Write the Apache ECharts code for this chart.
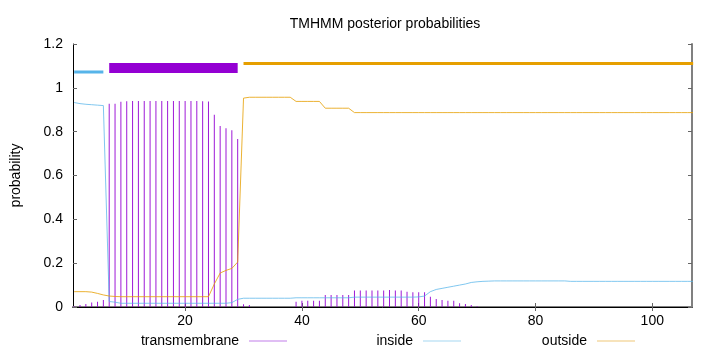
<!DOCTYPE html>
<html lang="en">
<head>
    <meta charset="UTF-8">
    <title>TMHMM posterior probabilities</title>
    <script type="text/javascript" src="https://cdn.jsdelivr.net/npm/echarts@6/dist/echarts.min.js"></script>
    <style>
        html, body { margin: 0; padding: 0; background: #fff; }
    </style>
</head>
<body>
    <div id="chart1" style="width:720px;height:352px;"></div>
</body>
<script type="text/javascript">
    // residue numbers 1..107
    var residues = [];
    for (var r = 1; r <= 107; r++) residues.push(r);

    // transmembrane posterior (impulses)
    var tmProb = [
        0.003, 0.009, 0.014, 0.020, 0.024, 0.032, 0.927, 0.927, 0.936, 0.939,
        0.940, 0.940, 0.940, 0.940, 0.940, 0.940, 0.940, 0.940, 0.940, 0.940,
        0.940, 0.940, 0.939, 0.938, 0.877, 0.826, 0.816, 0.806, 0.766, 0.012,
        0.009, 0, 0, 0, 0, 0, 0, 0, 0.024, 0.029,
        0.029, 0.029, 0.029, 0.055, 0.055, 0.055, 0.055, 0.055, 0.075, 0.075,
        0.075, 0.075, 0.075, 0.075, 0.078, 0.075, 0.075, 0.070, 0.067, 0.067,
        0.067, 0.047, 0.037, 0.032, 0.029, 0.029, 0.017, 0.014, 0.009, 0.003,
        0, 0, 0, 0, 0, 0, 0, 0, 0, 0,
        0, 0, 0, 0, 0, 0, 0, 0, 0, 0,
        0, 0, 0, 0, 0, 0, 0, 0, 0, 0,
        0, 0, 0, 0, 0, 0, 0
    ];

    // inside posterior
    var insideProb = [
        0.933, 0.928, 0.925, 0.923, 0.921, 0.919, 0.025, 0.022, 0.017, 0.017,
        0.017, 0.017, 0.017, 0.017, 0.017, 0.017, 0.017, 0.017, 0.017, 0.017,
        0.017, 0.017, 0.017, 0.017, 0.017, 0.017, 0.017, 0.020, 0.035, 0.040,
        0.040, 0.040, 0.040, 0.040, 0.040, 0.040, 0.040, 0.040, 0.042, 0.042,
        0.042, 0.042, 0.042, 0.042, 0.042, 0.042, 0.042, 0.042, 0.045, 0.045,
        0.045, 0.045, 0.045, 0.045, 0.045, 0.045, 0.045, 0.045, 0.045, 0.046,
        0.050, 0.070, 0.080, 0.085, 0.090, 0.095, 0.100, 0.105, 0.112, 0.115,
        0.117, 0.118, 0.119, 0.119, 0.119, 0.119, 0.119, 0.119, 0.119, 0.119,
        0.119, 0.119, 0.119, 0.119, 0.119, 0.117, 0.117, 0.117, 0.117, 0.117,
        0.117, 0.117, 0.117, 0.117, 0.117, 0.117, 0.117, 0.117, 0.117, 0.117,
        0.117, 0.117, 0.117, 0.117, 0.117, 0.117, 0.117
    ];

    // outside posterior
    var outsideProb = [
        0.070, 0.070, 0.070, 0.068, 0.062, 0.055, 0.050, 0.048, 0.047, 0.047,
        0.047, 0.047, 0.047, 0.047, 0.047, 0.047, 0.047, 0.047, 0.047, 0.047,
        0.047, 0.047, 0.047, 0.047, 0.105, 0.155, 0.167, 0.176, 0.205, 0.953,
        0.957, 0.957, 0.957, 0.957, 0.957, 0.957, 0.957, 0.957, 0.938, 0.938,
        0.938, 0.938, 0.938, 0.907, 0.907, 0.907, 0.907, 0.907, 0.887, 0.887,
        0.887, 0.887, 0.887, 0.887, 0.887, 0.887, 0.887, 0.887, 0.887, 0.887,
        0.887, 0.887, 0.887, 0.887, 0.887, 0.887, 0.887, 0.887, 0.887, 0.887,
        0.887, 0.887, 0.887, 0.887, 0.887, 0.887, 0.887, 0.887, 0.887, 0.887,
        0.887, 0.887, 0.887, 0.887, 0.887, 0.887, 0.887, 0.887, 0.887, 0.887,
        0.887, 0.887, 0.887, 0.887, 0.887, 0.887, 0.887, 0.887, 0.887, 0.887,
        0.887, 0.887, 0.887, 0.887, 0.887, 0.887, 0.887
    ];

    // predicted topology segments [start, end]
    var insideSeg = [1, 6];
    var tmSeg = [7, 29];
    var outsideSeg = [30, 107];

    var xTicks = [20, 40, 60, 80, 100];

    function pairs(vals) {
        return residues.map(function (r, i) { return [r, vals[i]]; });
    }

    var FONT = "'Liberation Sans', Arial, sans-serif";
    var PURPLE = '#9400D3', BLUE = '#56B4E9', ORANGE = '#E69F00';

    var chart = echarts.init(document.getElementById("chart1"));

    function legendAt(name, right, col) {
        return {
            data: [{ name: name, itemStyle: { color: col } }],
            right: right,
            top: 334,
            padding: 0,
            align: 'right',
            icon: 'rect',
            itemWidth: 38,
            itemHeight: 1,
            selectedMode: false,
            textStyle: { fontFamily: FONT, fontSize: 14, color: '#000', padding: [0, 5, 0, 0] }
        };
    }

    var option = {
        animation: false,
        title: {
            text: 'TMHMM posterior probabilities',
            left: 380,
            textAlign: 'center',
            top: 12,
            textStyle: { fontFamily: FONT, fontSize: 14, fontWeight: 'normal', color: '#000' }
        },
        legend: [
            legendAt('transmembrane', 433, '#b970e6'),
            legendAt('inside', 259, '#a6d8f2'),
            legendAt('outside', 85, '#f0c878')
        ],
        grid: { left: 73, right: 28, top: 44, bottom: 45 },
        xAxis: [
            {
                type: 'value', min: 0.8, max: 106.8, position: 'bottom',
                axisLine: { lineStyle: { color: '#808080', width: 2 } },
                axisTick: { inside: true, length: 4, customValues: xTicks, lineStyle: { color: '#666' } },
                axisLabel: { customValues: xTicks, margin: 7, fontFamily: FONT, fontSize: 14, color: '#000' },
                splitLine: { show: false }
            },
            {
                type: 'value', min: 0.8, max: 106.8, position: 'top',
                axisLine: { lineStyle: { color: '#000', width: 1 } },
                axisTick: { inside: true, length: 4, customValues: xTicks, lineStyle: { color: '#666' } },
                axisLabel: { show: false },
                splitLine: { show: false }
            }
        ],
        yAxis: [
            {
                type: 'value', min: 0, max: 1.2, interval: 0.2, position: 'left',
                name: 'probability', nameLocation: 'middle', nameGap: 50,
                nameTextStyle: { fontFamily: FONT, fontSize: 14, color: '#000' },
                axisLine: { show: true, lineStyle: { color: '#000', width: 1 } },
                axisTick: { show: true, inside: true, length: 4, lineStyle: { color: '#666' } },
                axisLabel: { margin: 10, fontFamily: FONT, fontSize: 14, color: '#000' },
                splitLine: { show: false }
            },
            {
                type: 'value', min: 0, max: 1.2, interval: 0.2, position: 'right',
                axisLine: { show: true, lineStyle: { color: '#808080', width: 2 } },
                axisTick: { show: true, inside: true, length: 4, lineStyle: { color: '#666' } },
                axisLabel: { show: false },
                splitLine: { show: false }
            }
        ],
        series: [
            {
                name: 'transmembrane', type: 'bar', data: pairs(tmProb),
                barWidth: 1, itemStyle: { color: PURPLE, opacity: 0.9 }, z: 1
            },
            {
                name: 'inside', type: 'line', data: pairs(insideProb),
                showSymbol: false, lineStyle: { color: BLUE, width: 1, opacity: 0.75 },
                itemStyle: { color: BLUE }, z: 3
            },
            {
                name: 'outside', type: 'line', data: pairs(outsideProb),
                showSymbol: false, lineStyle: { color: ORANGE, width: 1, opacity: 0.8 },
                itemStyle: { color: ORANGE }, z: 3
            },
            // predicted topology bars along the top
            {
                name: 'insideSeg', type: 'line', showSymbol: false, z: 4,
                data: [[insideSeg[0], 1.072], [insideSeg[1], 1.072]],
                lineStyle: { color: BLUE, width: 3, cap: 'butt' }
            },
            {
                name: 'tmSeg', type: 'line', showSymbol: false, z: 4,
                data: [[tmSeg[0], 1.09], [tmSeg[1], 1.09]],
                lineStyle: { color: PURPLE, width: 10, cap: 'butt' }
            },
            {
                name: 'outsideSeg', type: 'line', showSymbol: false, z: 4,
                data: [[outsideSeg[0], 1.111], [outsideSeg[1], 1.111]],
                lineStyle: { color: ORANGE, width: 3, cap: 'butt' }
            }
        ]
    };
    chart.setOption(option);
</script>
</html>
